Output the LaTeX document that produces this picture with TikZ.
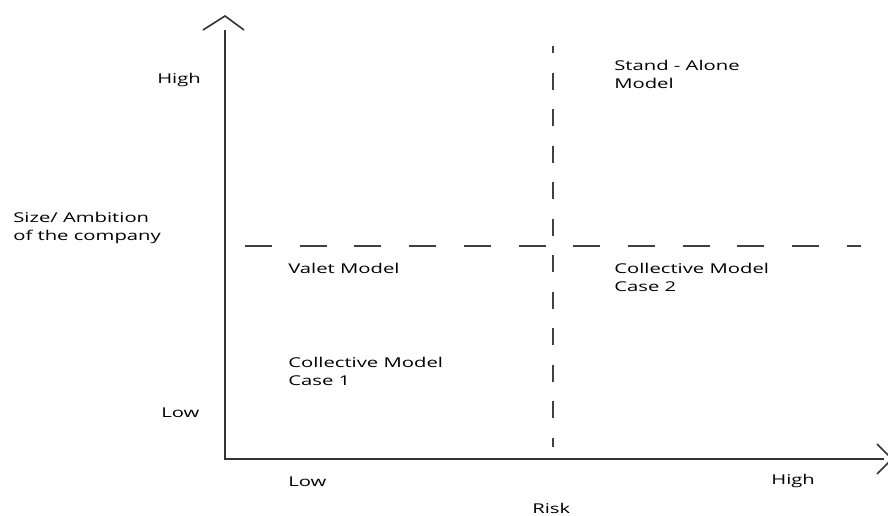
\documentclass[tikz,border=0pt]{standalone}
\usepackage{fontspec}
\setmainfont{Open Sans}
\begin{document}
\begin{tikzpicture}[x=1pt,y=-1pt,
  lbl/.style={anchor=west,inner sep=0pt,align=left,font=\fontsize{13.5}{18}\selectfont,text=black,xscale=1.5,transform shape},
  axisline/.style={line width=1.8pt,draw=black!80},
  divline/.style={line width=1.3pt,draw=black!75}]
\useasboundingbox (0,0) rectangle (888,515);
% axes
\coordinate (O) at (225,459);
\coordinate (Ytop) at (225,30);
\coordinate (Xend) at (884,459);
\draw[axisline] (Ytop) -- (O) -- (Xend);
\coordinate (Ya) at (225,16);
\draw[axisline,line width=1.6pt] (203,30) -- (Ya) -- (244,30);
\coordinate (Xa) at (892,459);
\draw[axisline,line width=1.6pt] (877,444) -- (Xa) -- (877,474);
% dividers
\coordinate (Hs) at (245,246);
\coordinate (He) at (861,246);
\draw[divline,dash pattern=on 27pt off 27.7pt] (Hs) -- (He);
\coordinate (Vs) at (553,46);
\coordinate (Ve) at (553,447);
\draw[divline,dash pattern=on 17pt off 19.5pt,dash phase=10pt] (Vs) -- (Ve);
% axis labels
\node[lbl] (yhigh) at (157,80) {High};
\node[lbl] (ylow) at (161,413) {Low};
\node[lbl] (ytitle) at (13,228) {Size/ Ambition\\of the company};
\node[lbl] (xlow) at (288,482) {Low};
\node[lbl] (xhigh) at (771,481) {High};
\node[lbl] (xtitle) at (532,508) {Risk};
% quadrant labels
\node[lbl] (stand) at (614,74) {Stand - Alone\\Model};
\node[lbl] (valet) at (288,268) {Valet Model};
\node[lbl] (coll2) at (614,277) {Collective Model\\Case 2};
\node[lbl] (coll1) at (288,371) {Collective Model\\Case 1};
\end{tikzpicture}
\end{document}
